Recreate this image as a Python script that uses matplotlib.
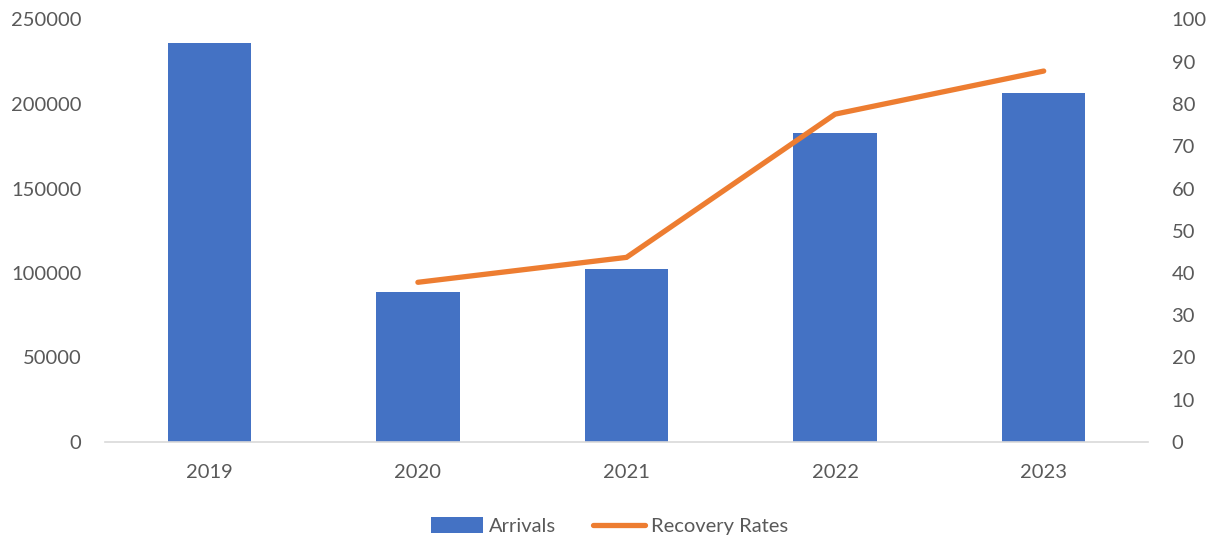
import matplotlib
matplotlib.use('Agg')
import matplotlib.pyplot as plt
from matplotlib.patches import Patch
from matplotlib.lines import Line2D

years = ['2019', '2020', '2021', '2022', '2023']
arrivals = [236000, 89000, 102200, 183000, 206700]
rate_years = ['2020', '2021', '2022', '2023']
recovery_rates = [37.8, 43.7, 77.6, 87.8]

BLUE = '#4472C4'
ORANGE = '#ED7D31'
TEXT = '#595959'

plt.rcParams['font.family'] = ['Lato', 'DejaVu Sans']
plt.rcParams['font.size'] = 14.5

fig = plt.figure(figsize=(12.19, 5.39), dpi=100)
ax = fig.add_axes([105 / 1219, 97 / 539, 1043 / 1219, 422.5 / 539])

x = list(range(len(years)))
ax.bar(x, arrivals, width=0.4, color=BLUE, zorder=2)
ax.set_xlim(-0.5, len(years) - 0.5)
ax.set_ylim(0, 250000)
ax.set_yticks(range(0, 250001, 50000))
ax.set_xticks(x)
ax.set_xticklabels(years)

ax2 = ax.twinx()
rx = [years.index(y) for y in rate_years]
ax2.plot(rx, recovery_rates, color=ORANGE, linewidth=3.8,
         solid_capstyle='round', solid_joinstyle='miter', zorder=3)
ax2.set_ylim(0, 100)
ax2.set_yticks(range(0, 101, 10))

for a in (ax, ax2):
    for side in ('top', 'left', 'right', 'bottom'):
        a.spines[side].set_visible(False)
    a.tick_params(length=0, colors=TEXT, labelsize=14.5)
ax.spines['bottom'].set_visible(True)
ax.spines['bottom'].set_color('#D9D9D9')
ax.spines['bottom'].set_linewidth(1.2)
ax.tick_params(axis='y', pad=17)
ax.tick_params(axis='x', pad=16)
ax2.tick_params(axis='y', pad=17)

handles = [Patch(facecolor=BLUE, edgecolor='none'),
           Line2D([0], [0], color=ORANGE, linewidth=3.8, solid_capstyle='round')]
leg = fig.legend(handles, ['Arrivals', 'Recovery Rates'], loc='lower center',
                 bbox_to_anchor=(0.5, -0.026), ncol=2, frameon=False,
                 handlelength=2.6, handleheight=0.8, handletextpad=0.3,
                 columnspacing=1.8, fontsize=14.5)
for t in leg.get_texts():
    t.set_color(TEXT)

fig.savefig('out.png', dpi=100)
plt.close(fig)
